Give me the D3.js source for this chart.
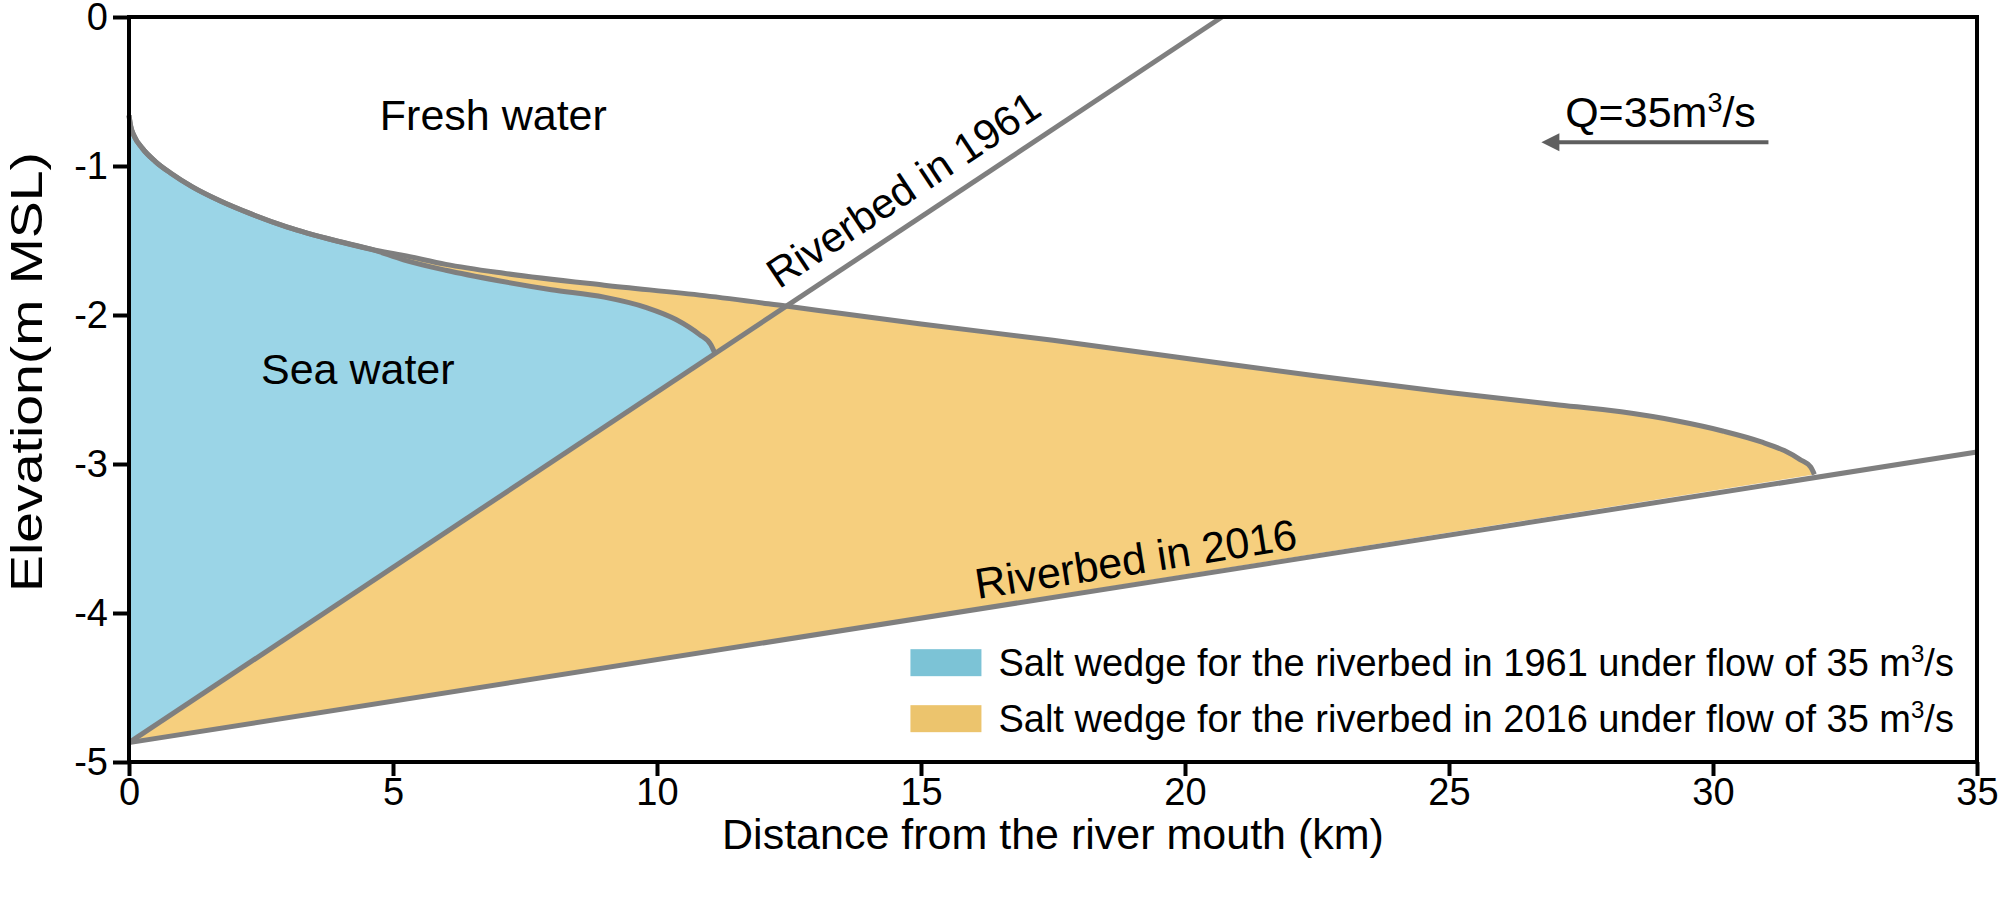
<html>

<head>
  <script src="https://d3js.org/d3.v7.min.js"></script>
  <style>
    body {
      margin: 0;
      background: #fff;
    }

    svg text {
      font-family: "Liberation Sans", Arial, sans-serif;
      fill: #000;
    }
  </style>
</head>

<body>
  <svg id="chart" width="2000" height="897"></svg>

  <script>
    // ---- data ----
    const xTicks = [0, 5, 10, 15, 20, 25, 30, 35];
    const yTicks = [0, -1, -2, -3, -4, -5];

    // riverbed profiles (km, m MSL)
    const bed1961 = [[0, -4.87], [20.7, 0]];
    const bed2016 = [[0, -4.87], [35, -2.92]];

    // salt wedge interface, shared part near the mouth
    const sharedInterface = [
      [0, -0.66], [0.03, -0.73], [0.1, -0.8], [0.25, -0.88], [0.5, -0.97],
      [0.8, -1.05], [1.2, -1.14], [1.7, -1.23], [2.3, -1.32], [3.0, -1.41],
      [3.9, -1.5], [4.6, -1.56]
    ];
    const interface1961 = [
      [5.2, -1.63], [6.0, -1.7], [7.0, -1.77], [8.0, -1.83], [9.0, -1.88],
      [9.8, -1.95], [10.36, -2.03], [10.8, -2.13], [11.02, -2.2], [11.1, -2.26]
    ];
    const interface2016 = [
      [5.2, -1.6], [6.0, -1.66], [7.1, -1.72], [9.0, -1.8], [10.9, -1.87],
      [12.44, -1.94], [13.5, -1.99], [15, -2.06], [17.5, -2.17], [20, -2.29],
      [22.5, -2.41], [25, -2.52], [27, -2.6], [28.26, -2.65], [29.3, -2.71],
      [30.2, -2.78], [30.9, -2.85], [31.35, -2.91], [31.65, -2.97],
      [31.85, -3.02], [31.92, -3.07]
    ];

    const legendLabels = [
      "Salt wedge for the riverbed in 1961 under flow of 35 m³/s",
      "Salt wedge for the riverbed in 2016 under flow of 35 m³/s"
    ];
    const legendColors = ["#7cc3d6", "#ecc46d"];

    // ---- layout ----
    const svg = d3.select("svg#chart");
    const margin = { top: 17, right: 23, bottom: 135, left: 129 };
    const width = +svg.attr("width");
    const height = +svg.attr("height");
    const chartWidth = width - margin.left - margin.right;
    const chartHeight = height - margin.top - margin.bottom;

    const xScale = d3.scaleLinear().domain([0, 35]).range([0, chartWidth]);
    const yScale = d3.scaleLinear().domain([-5, 0]).range([chartHeight, 0]);

    const chart = svg.append("g")
      .attr("transform", `translate(${margin.left},${margin.top})`);

    const curveLine = d3.line()
      .x(d => xScale(d[0]))
      .y(d => yScale(d[1]))
      .curve(d3.curveMonotoneX);
    const straight = d3.line()
      .x(d => xScale(d[0]))
      .y(d => yScale(d[1]));

    const wedge16 = sharedInterface.concat(interface2016);
    const wedge61 = sharedInterface.concat(interface1961);
    const closeAt = p => `L${xScale(p[0])},${yScale(p[1])}Z`;

    // filled wedges
    chart.append("path")
      .attr("d", curveLine(wedge16) + closeAt(bed2016[0]))
      .attr("fill", "#f6cf7e");
    chart.append("path")
      .attr("d", curveLine(wedge61) + closeAt(bed1961[0]))
      .attr("fill", "#9bd5e7");

    // outlines
    const grey = "#7f7f7f";
    [wedge16, wedge61].forEach(w => {
      chart.append("path")
        .attr("d", curveLine(w))
        .attr("fill", "none")
        .attr("stroke", grey)
        .attr("stroke-width", 5);
    });
    [bed1961, bed2016].forEach(b => {
      chart.append("path")
        .attr("d", straight(b))
        .attr("fill", "none")
        .attr("stroke", grey)
        .attr("stroke-width", 5);
    });

    // frame
    chart.append("rect")
      .attr("x", 0).attr("y", 0)
      .attr("width", chartWidth).attr("height", chartHeight)
      .attr("fill", "none")
      .attr("stroke", "#000")
      .attr("stroke-width", 4);

    // axes
    const bottomAxis = d3.axisBottom(xScale)
      .tickValues(xTicks).tickSize(14).tickSizeOuter(0).tickPadding(2)
      .tickFormat(d3.format("d"));
    const xAxis = chart.append("g")
      .attr("transform", `translate(0,${chartHeight})`)
      .call(bottomAxis);

    const leftAxis = d3.axisLeft(yScale)
      .tickValues(yTicks).tickSize(16).tickSizeOuter(0).tickPadding(5)
      .tickFormat(d => d === 0 ? "0" : "-" + Math.abs(d));
    const yAxis = chart.append("g").call(leftAxis);

    [xAxis, yAxis].forEach(a => {
      a.select(".domain").remove();
      a.selectAll(".tick line").attr("stroke", "#000").attr("stroke-width", 4);
      a.selectAll(".tick text").style("font-size", "38px")
        .style("font-family", '"Liberation Sans", Arial, sans-serif')
        .attr("fill", "#000");
    });

    // axis titles
    svg.append("text")
      .attr("x", margin.left + chartWidth / 2)
      .attr("y", 849)
      .attr("text-anchor", "middle")
      .style("font-size", "43px")
      .text("Distance from the river mouth (km)");

    svg.append("text")
      .attr("transform", `translate(42,372) rotate(-90)`)
      .attr("text-anchor", "middle")
      .attr("textLength", 440)
      .attr("lengthAdjust", "spacingAndGlyphs")
      .style("font-size", "45px")
      .text("Elevation(m MSL)");

    // annotations
    chart.append("text")
      .attr("x", xScale(4.75)).attr("y", yScale(-0.76))
      .style("font-size", "43px")
      .text("Fresh water");

    chart.append("text")
      .attr("x", xScale(2.5)).attr("y", yScale(-2.46))
      .style("font-size", "43px")
      .text("Sea water");

    const bedLabel = (bed, atX, offset, size, label) => {
      const slope = (bed[1][1] - bed[0][1]) / (bed[1][0] - bed[0][0]);
      const yAt = bed[0][1] + slope * (atX - bed[0][0]);
      const dx = xScale(bed[1][0]) - xScale(bed[0][0]);
      const dy = yScale(bed[1][1]) - yScale(bed[0][1]);
      const angle = Math.atan2(dy, dx) * 180 / Math.PI;
      chart.append("text")
        .attr("transform", `translate(${xScale(atX)},${yScale(yAt)}) rotate(${angle})`)
        .attr("y", -offset)
        .style("font-size", size)
        .text(label);
    };
    bedLabel(bed1961, 12.5, 18, "42px", "Riverbed in 1961");
    bedLabel(bed2016, 16.1, 10, "43px", "Riverbed in 2016");

    // discharge arrow
    const q = chart.append("text")
      .attr("x", xScale(27.2)).attr("y", yScale(-0.74))
      .style("font-size", "43px");
    q.append("tspan").text("Q=35m");
    q.append("tspan").attr("dy", -15).style("font-size", "27px").text("3");
    q.append("tspan").attr("dy", 15).text("/s");

    const arrowY = yScale(-0.84);
    chart.append("line")
      .attr("x1", xScale(31.05)).attr("x2", xScale(26.95))
      .attr("y1", arrowY).attr("y2", arrowY)
      .attr("stroke", "#5f5f5f").attr("stroke-width", 4);
    const tipX = xScale(26.75);
    chart.append("path")
      .attr("d", `M${tipX},${arrowY}L${tipX + 18},${arrowY - 9}L${tipX + 18},${arrowY + 9}Z`)
      .attr("fill", "#5f5f5f");

    // legend
    const legend = chart.append("g")
      .attr("transform", `translate(${xScale(14.8)},${yScale(-4.33)})`);
    const items = legend.selectAll(".legend-item")
      .data(legendLabels)
      .enter().append("g")
      .attr("class", "legend-item")
      .attr("transform", (d, i) => `translate(0,${i * 56})`);
    items.append("rect")
      .attr("x", 0).attr("y", -13)
      .attr("width", 71).attr("height", 27)
      .attr("fill", (d, i) => legendColors[i]);
    items.append("text")
      .attr("x", 88).attr("y", 14)
      .style("font-size", "38px")
      .each(function (d) {
        const t = d3.select(this);
        const parts = d.split("³");
        t.append("tspan").text(parts[0]);
        t.append("tspan").attr("dy", -14).style("font-size", "24px").text("3");
        t.append("tspan").attr("dy", 14).text(parts[1]);
      });
  </script>

</body>

</html>
